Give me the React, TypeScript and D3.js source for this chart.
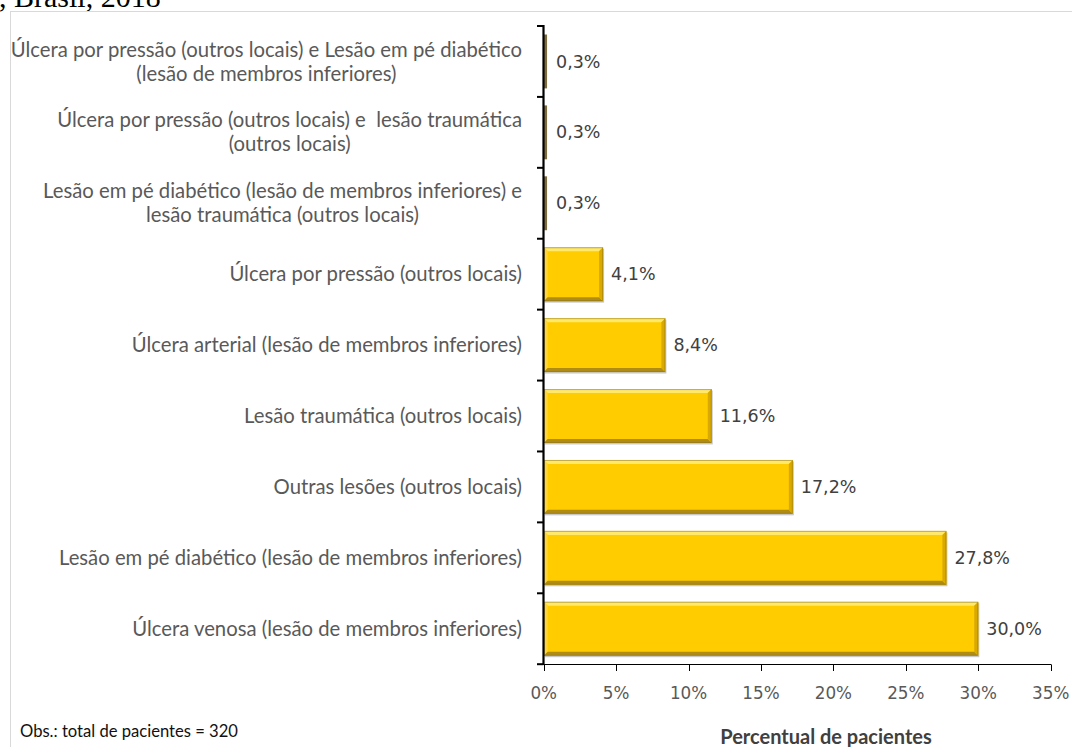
import React, { useEffect, useRef } from "react";
import * as d3 from "d3";

const categoryLines: string[][] = [
  ["Úlcera por pressão (outros locais) e Lesão em pé diabético", "(lesão de membros inferiores)"],
  ["Úlcera por pressão (outros locais) e  lesão traumática", "(outros locais)"],
  ["Lesão em pé diabético (lesão de membros inferiores) e", "lesão traumática (outros locais)"],
  ["Úlcera por pressão (outros locais)"],
  ["Úlcera arterial (lesão de membros inferiores)"],
  ["Lesão traumática (outros locais)"],
  ["Outras lesões (outros locais)"],
  ["Lesão em pé diabético (lesão de membros inferiores)"],
  ["Úlcera venosa (lesão de membros inferiores)"],
];
const values: number[] = [0.3, 0.3, 0.3, 4.1, 8.4, 11.6, 17.2, 27.8, 30.0];
const xTicks: number[] = [0, 5, 10, 15, 20, 25, 30, 35];
const titleText = ", Brasil, 2018";
const noteText = "Obs.: total de pacientes = 320";
const axisTitle = "Percentual de pacientes";

const W = 1072;
const H = 747;

export default function App() {
  const ref = useRef<SVGSVGElement | null>(null);

  useEffect(() => {
    const svg = d3.select(ref.current!);
    svg.selectAll("*").remove();

    const x = d3.scaleLinear().domain([0, 35]).range([543.7, 1050.7]);
    const idx = values.map((_, i) => i);
    const y = d3
      .scaleBand<number>()
      .domain(idx)
      .range([26, 664.2])
      .paddingInner(0.24)
      .paddingOuter(0.12);
    const step = y.step();
    const bandTop = (i: number) => 26 + i * step;

    // title (cut off)
    svg
      .append("text")
      .attr("x", -1)
      .attr("y", 7)
      .attr("font-family", "'Liberation Serif', serif")
      .attr("font-size", 30)
      .attr("fill", "#000")
      .text(titleText);

    // chart border
    svg
      .append("rect")
      .attr("x", 10.5)
      .attr("y", 11.5)
      .attr("width", 1200)
      .attr("height", 900)
      .attr("fill", "#fff")
      .attr("stroke", "#d9d9d9")
      .attr("stroke-width", 1);

    // bars
    const bars = svg.append("g");
    values.forEach((v, i) => {
      const x0 = x(0);
      const w = x(v) - x0;
      const yy = y(i)!;
      const h = y.bandwidth();
      const g = bars.append("g");
      if (w < 10) {
        g.append("rect")
          .attr("x", x0)
          .attr("y", yy)
          .attr("width", w - 1)
          .attr("height", h)
          .attr("fill", "#7e6c3c");
        return;
      }
      // shadow
      g.append("rect")
        .attr("x", x0 + 1)
        .attr("y", yy + 1.5)
        .attr("width", w)
        .attr("height", h)
        .attr("fill", "#c8c8c8");
      g.append("rect")
        .attr("x", x0)
        .attr("y", yy)
        .attr("width", w)
        .attr("height", h)
        .attr("fill", "#FFCC00");
      const b = 4;
      const x1 = x0 + w;
      const y1 = yy + h;
      const poly = (pts: number[][], fill: string) =>
        g.append("polygon").attr("points", pts.map((p) => p.join(",")).join(" ")).attr("fill", fill);
      poly([[x0, yy], [x1, yy], [x1 - b, yy + b], [x0 + b, yy + b]], "#FFE86A");
      poly([[x0, yy], [x0 + b, yy + b], [x0 + b, y1 - b], [x0, y1]], "#FFD53A");
      poly([[x0, y1], [x0 + b, y1 - b], [x1 - b, y1 - b], [x1, y1]], "#B08C14");
      poly([[x1, yy], [x1, y1], [x1 - b, y1 - b], [x1 - b, yy + b]], "#D9A900");
      g.append("rect")
        .attr("x", x0 + 0.5)
        .attr("y", yy + 0.5)
        .attr("width", w - 1)
        .attr("height", h - 1)
        .attr("fill", "none")
        .attr("stroke", "#8a7420")
        .attr("stroke-opacity", 0.5)
        .attr("stroke-width", 1);
    });

    // value labels
    const fmt = d3.format(".1f");
    svg
      .append("g")
      .selectAll("text")
      .data(values)
      .join("text")
      .attr("x", (d) => x(d) + 8)
      .attr("y", (_, i) => y(i)! + y.bandwidth() / 2)
      .attr("dy", "0.35em")
      .attr("font-family", "'DejaVu Sans', sans-serif")
      .attr("font-size", 17.5)
      .attr("fill", "#404040")
      .text((d) => fmt(d).replace(".", ",") + "%");

    // y axis
    const ax = svg.append("g");
    ax.append("line")
      .attr("x1", 543.5)
      .attr("x2", 543.5)
      .attr("y1", 25)
      .attr("y2", 665)
      .attr("stroke", "#000")
      .attr("stroke-width", 2.2);
    d3.range(values.length + 1).forEach((i) => {
      ax.append("line")
        .attr("x1", 537)
        .attr("x2", 543.5)
        .attr("y1", bandTop(i))
        .attr("y2", bandTop(i))
        .attr("stroke", "#000")
        .attr("stroke-width", 2);
    });

    // x axis
    ax.append("line")
      .attr("x1", 543)
      .attr("x2", x(35) + 0.5)
      .attr("y1", 664.5)
      .attr("y2", 664.5)
      .attr("stroke", "#000")
      .attr("stroke-width", 1);
    xTicks.forEach((t) => {
      ax.append("line")
        .attr("x1", Math.round(x(t)) + 0.5)
        .attr("x2", Math.round(x(t)) + 0.5)
        .attr("y1", 664.5)
        .attr("y2", 671)
        .attr("stroke", "#000")
        .attr("stroke-width", 1);
      ax.append("text")
        .attr("x", x(t))
        .attr("y", 693)
        .attr("dy", "0.35em")
        .attr("text-anchor", "middle")
        .attr("font-family", "'DejaVu Sans', sans-serif")
        .attr("font-size", 16.8)
        .attr("fill", "#595959")
        .text(t + "%");
    });

    // category labels
    const lab = svg.append("g");
    const right = 522;
    const lh = 24;
    categoryLines.forEach((lines, i) => {
      const cy = bandTop(i) + step / 2;
      const texts = lines.map((ln, k) =>
        lab
          .append("text")
          .attr("font-family", "Lato, sans-serif")
          .attr("font-size", 20.3)
          .attr("fill", "#595959")
          .style("white-space", "pre")
          .attr("y", cy + (k - (lines.length - 1) / 2) * lh)
          .attr("dy", "0.35em")
          .attr("text-anchor", "middle")
          .text(ln)
      );
      const widths = texts.map((t) => (t.node() as SVGTextElement).getComputedTextLength());
      const maxW = Math.max(...widths);
      const cx = right - maxW / 2;
      texts.forEach((t) => t.attr("x", cx));
    });

    // note
    svg
      .append("text")
      .attr("x", 20)
      .attr("y", 731)
      .attr("dy", "0.35em")
      .attr("font-family", "Lato, sans-serif")
      .attr("font-size", 16.6)
      .attr("fill", "#111")
      .text(noteText);

    // axis title
    svg
      .append("text")
      .attr("x", 826)
      .attr("y", 744)
      .attr("text-anchor", "middle")
      .attr("font-family", "Lato, sans-serif")
      .attr("font-weight", "bold")
      .attr("font-size", 20)
      .attr("fill", "#404040")
      .text(axisTitle);
  }, []);

  return (
    <svg
      ref={ref}
      width={W}
      height={H}
      style={{ position: "absolute", left: 0, top: 0, display: "block", background: "#fff" }}
    />
  );
}
